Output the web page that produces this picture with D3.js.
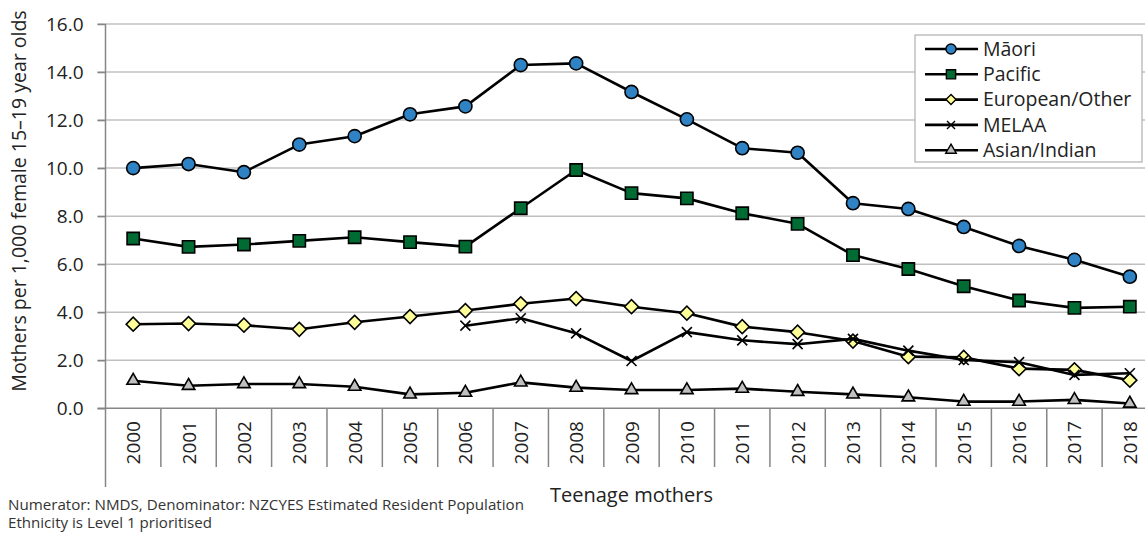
<!DOCTYPE html>
<html>
<head>
<meta charset="utf-8">
<script src="https://cdn.jsdelivr.net/npm/d3@7"></script>
<style>
  body { margin: 0; background: #fff; }
  svg { display: block; font-family: "Open Sans", "Noto Sans", sans-serif; }
</style>
</head>
<body>
<div id="vis"></div>
<script>
// frame + plot area
const FRAME_WIDTH = 1145;
const FRAME_HEIGHT = 533;
const PLOT = {left: 105.5, right: 1157.5, top: 24, bottom: 408.3};

// data
const years = ["2000", "2001", "2002", "2003", "2004", "2005", "2006", "2007", "2008", "2009",
               "2010", "2011", "2012", "2013", "2014", "2015", "2016", "2017", "2018"];
const maori = [10.0, 10.17, 9.83, 10.98, 11.33, 12.24, 12.57, 14.29, 14.36, 13.17,
               12.03, 10.83, 10.64, 8.54, 8.3, 7.55, 6.76, 6.18, 5.48];
const pacific = [7.07, 6.72, 6.82, 6.97, 7.12, 6.92, 6.73, 8.33, 9.92, 8.96,
                 8.74, 8.12, 7.68, 6.38, 5.8, 5.08, 4.49, 4.18, 4.23];
const european = [3.5, 3.53, 3.46, 3.29, 3.58, 3.82, 4.07, 4.35, 4.57, 4.23,
                  3.96, 3.4, 3.17, 2.8, 2.15, 2.12, 1.65, 1.6, 1.17];
const melaa = [null, null, null, null, null, null, 3.44, 3.75, 3.12, 1.97,
               3.17, 2.83, 2.67, 2.89, 2.4, 2.01, 1.92, 1.39, 1.46];
const asian = [1.15, 0.94, 1.01, 1.01, 0.9, 0.58, 0.65, 1.08, 0.86, 0.76,
               0.76, 0.82, 0.69, 0.58, 0.46, 0.28, 0.28, 0.35, 0.2];
const seriesNames = ["M\u0101ori", "Pacific", "European/Other", "MELAA", "Asian/Indian"];
const yTicks = [0, 2, 4, 6, 8, 10, 12, 14, 16];

// x marker as a custom d3 symbol type
const symbolCross45 = {
  draw(context, size) {
    const r = Math.sqrt(size) / 2;
    context.moveTo(-r, -r); context.lineTo(r, r);
    context.moveTo(r, -r); context.lineTo(-r, r);
  }
};

const SERIES = [
  {name: seriesNames[0], values: maori, type: d3.symbolCircle, size: 135, legendSize: 80, fill: "#2f83c5", rotate: 0},
  {name: seriesNames[1], values: pacific, type: d3.symbolSquare, size: 150, legendSize: 85, fill: "#006b33", rotate: 0},
  {name: seriesNames[2], values: european, type: d3.symbolSquare, size: 98, legendSize: 50, fill: "#ffff99", rotate: 45},
  {name: seriesNames[3], values: melaa, type: symbolCross45, size: 100, legendSize: 64, fill: "none", rotate: 0},
  {name: seriesNames[4], values: asian, type: d3.symbolTriangle, size: 68, legendSize: 48, fill: "#bfbfbf", rotate: 0}
];

const FRAME = d3.select("#vis")
  .append("svg")
    .attr("width", FRAME_WIDTH)
    .attr("height", FRAME_HEIGHT);

// scales
const X_SCALE = d3.scaleBand()
  .domain(years)
  .range([PLOT.left, PLOT.right]);

const Y_SCALE = d3.scaleLinear()
  .domain([0, 16])
  .range([PLOT.bottom, PLOT.top]);

const xc = (d, i) => X_SCALE(years[i]) + X_SCALE.bandwidth() / 2;

// gridlines (with tick stubs left of axis)
FRAME.append("g")
  .selectAll("line")
  .data(yTicks.slice(1))
  .enter()
  .append("line")
    .attr("x1", PLOT.left - 8)
    .attr("x2", FRAME_WIDTH)
    .attr("y1", d => Y_SCALE(d))
    .attr("y2", d => Y_SCALE(d))
    .attr("stroke", "#c0c0c0")
    .attr("stroke-width", 1.5);

// y axis
const yAxis = FRAME.append("g")
  .attr("transform", "translate(" + PLOT.left + ",0)")
  .call(d3.axisLeft(Y_SCALE).tickValues(yTicks).tickFormat(d3.format(".1f")).tickSize(8).tickPadding(14));
yAxis.select(".domain").remove();
yAxis.selectAll(".tick line").attr("stroke", "#868686").attr("stroke-width", 1.5);
yAxis.selectAll(".tick text")
  .attr("font-size", "19px")
  .attr("fill", "#222")
  .attr("font-family", "'Open Sans', sans-serif");

FRAME.append("line")
  .attr("x1", PLOT.left).attr("x2", PLOT.left)
  .attr("y1", PLOT.top).attr("y2", 487)
  .attr("stroke", "#868686")
  .attr("stroke-width", 1.5);

// x axis line + category separators
FRAME.append("line")
  .attr("x1", PLOT.left - 8).attr("x2", FRAME_WIDTH)
  .attr("y1", PLOT.bottom).attr("y2", PLOT.bottom)
  .attr("stroke", "#868686")
  .attr("stroke-width", 1.5);

FRAME.append("g")
  .selectAll("line")
  .data(years)
  .enter()
  .append("line")
    .attr("x1", d => X_SCALE(d) + X_SCALE.bandwidth())
    .attr("x2", d => X_SCALE(d) + X_SCALE.bandwidth())
    .attr("y1", PLOT.bottom)
    .attr("y2", 467)
    .attr("stroke", "#868686")
    .attr("stroke-width", 1.5);

FRAME.append("g")
  .selectAll("text")
  .data(years)
  .enter()
  .append("text")
    .attr("transform", d => "translate(" + (X_SCALE(d) + X_SCALE.bandwidth() / 2) + ",421) rotate(-90)")
    .attr("text-anchor", "end")
    .attr("dominant-baseline", "central")
    .attr("font-size", "19px")
    .attr("fill", "#222")
    .text(d => d);

// series
const line = d3.line()
  .defined(d => d !== null)
  .x((d, i) => xc(d, i))
  .y(d => Y_SCALE(d));

SERIES.forEach(s => {
  const g = FRAME.append("g");
  g.append("path")
    .datum(s.values)
    .attr("d", line)
    .attr("fill", "none")
    .attr("stroke", "#000")
    .attr("stroke-width", 2.6)
    .attr("stroke-linejoin", "round");

  g.selectAll("path.pt")
    .data(s.values.map((v, i) => ({v: v, i: i})).filter(d => d.v !== null))
    .enter()
    .append("path")
      .attr("class", "pt")
      .attr("d", d3.symbol().type(s.type).size(s.size))
      .attr("transform", d => "translate(" + xc(d.v, d.i) + "," + Y_SCALE(d.v) + ") rotate(" + s.rotate + ")")
      .attr("fill", s.fill)
      .attr("stroke", "#000")
      .attr("stroke-width", 1.6);
});

// legend
const LEG = {x: 915, y: 35, w: 227, h: 127, row: 25.3};
const legend = FRAME.append("g");
legend.append("rect")
  .attr("x", LEG.x).attr("y", LEG.y)
  .attr("width", LEG.w).attr("height", LEG.h)
  .attr("fill", "#fff")
  .attr("stroke", "#b0b0b0")
  .attr("stroke-width", 1.2);

const rows = legend.selectAll("g.row")
  .data(SERIES)
  .enter()
  .append("g")
    .attr("class", "row")
    .attr("transform", (d, i) => "translate(0," + (LEG.y + 14 + i * LEG.row) + ")");

rows.append("line")
  .attr("x1", 925).attr("x2", 978)
  .attr("stroke", "#000").attr("stroke-width", 2.6);

rows.append("path")
  .attr("d", d => d3.symbol().type(d.type).size(d.legendSize)())
  .attr("transform", d => "translate(951,0) rotate(" + d.rotate + ")")
  .attr("fill", d => d.fill)
  .attr("stroke", "#000")
  .attr("stroke-width", 1.4);

rows.append("text")
  .attr("x", 983)
  .attr("dy", "0.35em")
  .attr("font-size", "19.5px")
  .attr("fill", "#222")
  .text(d => d.name);

// axis titles
FRAME.append("text")
  .attr("transform", "translate(18,201) rotate(-90)")
  .attr("text-anchor", "middle")
  .attr("dominant-baseline", "central")
  .attr("font-size", "19.5px")
  .attr("fill", "#222")
  .text("Mothers per 1,000 female 15\u201319 year olds");

FRAME.append("text")
  .attr("x", (PLOT.left + PLOT.right) / 2).attr("y", 502)
  .attr("text-anchor", "middle")
  .attr("font-size", "20px")
  .attr("fill", "#222")
  .text("Teenage mothers");

// footnotes
FRAME.append("text")
  .attr("x", 8).attr("y", 510)
  .attr("font-size", "14px")
  .attr("fill", "#333")
  .attr("textLength", 516)
  .attr("lengthAdjust", "spacingAndGlyphs")
  .text("Numerator: NMDS, Denominator: NZCYES Estimated Resident Population");

FRAME.append("text")
  .attr("x", 8).attr("y", 528)
  .attr("font-size", "14px")
  .attr("fill", "#333")
  .attr("textLength", 204)
  .attr("lengthAdjust", "spacingAndGlyphs")
  .text("Ethnicity is Level 1 prioritised");
</script>
</body>
</html>
